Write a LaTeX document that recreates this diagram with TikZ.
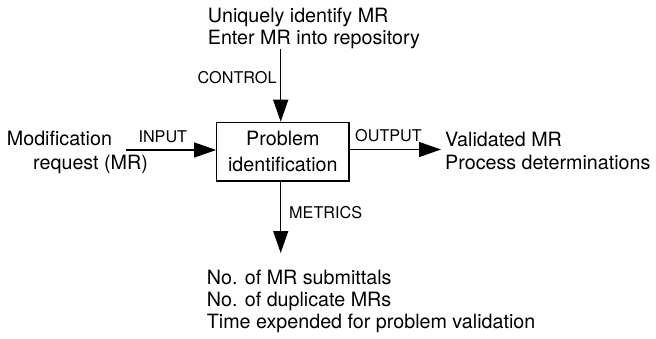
\documentclass[tikz,border=0pt]{standalone}
\usepackage{fontspec}
\setmainfont{TeX Gyre Heros}
\usetikzlibrary{arrows.meta}
\begin{document}
\begin{tikzpicture}[x=1pt,y=-1pt,
  main/.style={inner sep=0pt,anchor=base west,font=\fontsize{19.7}{22.5}\selectfont},
  lab/.style={inner sep=0pt,anchor=base west,font=\fontsize{16.2}{18}\selectfont},
  flow/.style={line width=1.2pt,-{Triangle[length=22pt,width=15pt]}},
  procbox/.style={draw,line width=1.2pt,minimum width=132.3pt,minimum height=58.7pt,inner sep=0pt}]
\useasboundingbox (0,0) rectangle (656,338);
\node[procbox] (box) at (282.85,151.65) {};
\node[inner sep=0pt,anchor=base,font=\fontsize{19.7}{22.5}\selectfont] (p1) at (282.85,145.7) {Problem};
\node[inner sep=0pt,anchor=base,font=\fontsize{19.7}{22.5}\selectfont] (p2) at (282.85,171) {identification};
% control
\node[main] (c1) at (207.7,22.7) {Uniquely identify MR};
\node[main] (c2) at (207.7,44.7) {Enter MR into repository};
\node[lab] (cl) at (197.5,83.3) {CONTROL};
\coordinate (ctop) at (280.7,49);
\draw[flow] (ctop) -- (ctop |- box.north);
% input
\node[main] (i1) at (6.7,145.7) {Modification};
\node[main] (i2) at (33,169) {request (MR)};
\node[lab] (il) at (138.3,142.3) {INPUT};
\coordinate (inl) at (125.5,150);
\draw[flow] (inl) -- (inl -| box.west);
% output
\node[lab] (ol) at (355,141) {OUTPUT};
\coordinate (outr) at (441,149.5);
\draw[flow] (outr -| box.east) -- (outr);
\node[main] (o1) at (445,146.7) {Validated MR};
\node[main] (o2) at (445,169.3) {Process determinations};
% metrics
\node[lab] (ml) at (289,218.5) {METRICS};
\coordinate (mbot) at (280.7,253);
\draw[flow] (mbot |- box.south) -- (mbot);
\node[main] (m1) at (206.7,284.3) {No. of MR submittals};
\node[main] (m2) at (206.7,306.7) {No. of duplicate MRs};
\node[main] (m3) at (206.7,328.7) {Time expended for problem validation};
\end{tikzpicture}
\end{document}
